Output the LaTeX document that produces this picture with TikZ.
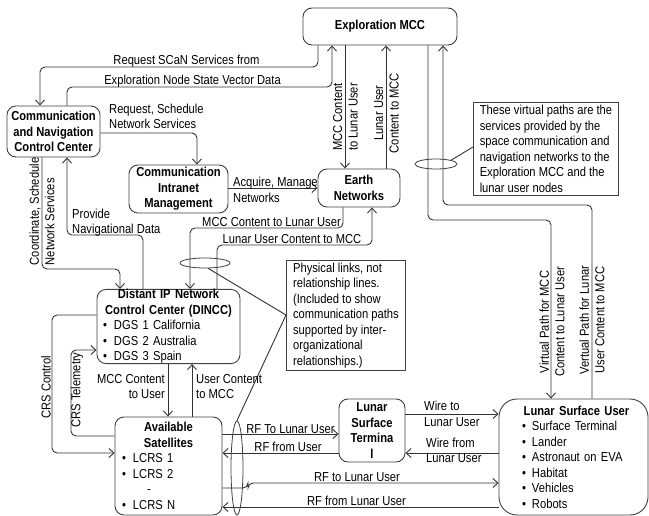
\documentclass[tikz,border=0pt]{standalone}
\usepackage{fontspec}
\setmainfont{Liberation Sans}[FakeStretch=0.86]
\usepackage{tikz}
\usetikzlibrary{arrows.meta,shapes.geometric}

\newcommand{\dfont}{\fontsize{13}{15.5}\selectfont}
% one left-aligned line of a bullet list inside a centred box
\newcommand{\litem}[2][11pt]{\makebox[\linewidth][l]{\mdseries\makebox[#1][l]{\textbullet}#2}}

\tikzset{
  box/.style={draw=black!75, line width=0.9pt, rounded corners=9pt, align=center,
    font=\dfont\bfseries, inner sep=0pt},
  note/.style={draw=black!75, line width=0.9pt, align=left, font=\dfont,
    inner sep=0pt, anchor=north west},
  lbl/.style={inner sep=0pt, align=center, font=\dfont},
  link/.style={draw=black!80, line width=0.9pt, rounded corners=5pt,
    -{Straight Barb[length=5pt,width=9pt]}},
  plain/.style={draw=black!80, line width=0.9pt, rounded corners=5pt},
  ring/.style={draw=black!75, line width=0.8pt, ellipse, inner sep=0pt}
}

\begin{document}
\begin{tikzpicture}[x=1pt,y=-1pt]
\useasboundingbox (0,0) rectangle (649,516);

% organisations
\node[box, minimum width=154, minimum height=37] (mcc) at (380,26.5) {Exploration MCC};
\node[box, minimum width=93, minimum height=51] (cncc) at (53.5,131.5) {Communication\\and Navigation\\Control Center};
\node[box, minimum width=99, minimum height=48] (cim) at (178.5,189) {Communication\\Intranet\\Management};
\node[box, minimum width=82, minimum height=38] (earth) at (359,188) {Earth\\Networks};
\node[box, minimum width=143, minimum height=73, text width=131] (dincc) at (168.5,326.5)
  {Distant IP Network\\Control Center (DINCC)\\
   \litem{DGS 1 California}\\\litem{DGS 2 Australia}\\\litem{DGS 3 Spain}};
\node[box, minimum width=107, minimum height=98, text width=93] (sat) at (168.5,466)
  {Available\\Satellites\\
   \litem{LCRS 1}\\\litem{LCRS 2}\\\makebox[\linewidth][l]{\mdseries\hspace*{25pt}-}\\\litem{LCRS N}};
\node[box, minimum width=66, minimum height=63] (lst) at (372,430.5) {Lunar\\Surface\\Termina\\l};
\node[box, rounded corners=18pt, minimum width=149, minimum height=116, text width=103] (lsu) at (573.5,457)
  {\makebox[\linewidth][c]{\hspace*{6pt}Lunar Surface User}\\
   \litem[10pt]{Surface Terminal}\\\litem[10pt]{Lander}\\\litem[10pt]{Astronaut on EVA}\\
   \litem[10pt]{Habitat}\\\litem[10pt]{Vehicles}\\\litem[10pt]{Robots}};

% notes
\node[note, minimum width=145, minimum height=93] (vnote) at (473,102)
  {These virtual paths are the\\services provided by the\\space communication and\\navigation networks to the\\Exploration MCC and the\\lunar user nodes};
\node[note, minimum width=119, minimum height=110] (pnote) at (286,260)
  {Physical links, not\\relationship lines.\\(Included to show\\communication paths\\supported by inter-\\organizational\\relationships.)};

% relationships
\draw[link] (mcc.south -| 318,0) |- (40,67) -- (cncc.north -| 40,0);
\draw[link] (cncc.north -| 67,0) |- (332,87) -- (mcc.south -| 332,0);
\draw[link] (mcc.south -| 345,0) -- (earth.north -| 345,0);
\draw[link] (earth.north -| 386,0) -- (mcc.south -| 386,0);
\draw[link] (mcc.south -| 428,0) |- (551,220) -- (lsu.north -| 551,0);
\draw[link] (lsu.north -| 592,0) |- (443,205) -- (mcc.south -| 443,0);
\draw[link] (cncc.east |- 0,133) -| (cim.north -| 197,0);
\draw[link] (cim.east |- 0,188) -- (earth.west |- 0,188);
\draw[link] (cncc.south -| 42,0) |- (120,269) -- (dincc.north -| 120,0);
\draw[link] (dincc.north -| 143,0) |- (67,235) -- (cncc.south -| 67,0);
\draw[link] (earth.south -| 343,0) |- (190,228) -- (dincc.north -| 190,0);
\draw[link] (dincc.north -| 217,0) |- (372,245) -- (earth.south -| 372,0);
\draw[link] (dincc.south -| 168,0) -- (sat.north -| 168,0);
\draw[link] (sat.north -| 192,0) -- (dincc.south -| 192,0);
\draw[link] (dincc.west |- 0,315) -| (52,453) -- (sat.west |- 0,453);
\draw[link] (sat.west |- 0,436) -| (71,350) -- (dincc.west |- 0,350);
\draw[link] (sat.east |- 0,434) -- (lst.west |- 0,434);
\draw[link] (lst.west |- 0,453) -- (sat.east |- 0,453);
\draw[link] (sat.east |- 0,488) -| (248,483) -- (lsu.west |- 0,483);
\draw[link] (lsu.west |- 0,507) -- (sat.east |- 0,507);
\draw[link] (lst.east |- 0,414) -- (lsu.west |- 0,414);
\draw[link] (lsu.west |- 0,453) -- (lst.east |- 0,453);

% rings round the paths
\node[ring, minimum width=42, minimum height=10] (vring) at (436,164) {};
\node[ring, minimum width=50, minimum height=10] (pring1) at (205,263) {};
\node[ring, minimum width=12, minimum height=94] (pring2) at (237,468) {};
\draw[plain] (vring.north east) -- (vnote.west |- 0,147);
\draw[plain, rounded corners=0pt] (pring1.-60) -- (pnote.west |- 0,315) -- (pring2.north);

% labels
\node[lbl] (lreq) at (186.5,61) {Request SCaN Services from};
\node[lbl] (lvec) at (192.5,81) {Exploration Node State Vector Data};
\node[lbl, rotate=90] (lmcc1) at (345.5,117) {MCC Content\\to Lunar User};
\node[lbl, rotate=90] (luser1) at (386.5,113) {Lunar User\\Content to MCC};
\node[lbl, anchor=west, align=left] (lsched) at (109,116.5) {Request, Schedule\\Network Services};
\node[lbl, anchor=west, align=left] (lacq) at (233,190) {Acquire, Manage\\Networks};
\node[lbl, rotate=90, align=left] (lcoord) at (42,211.5) {Coordinate, Schedule\\Network Services};
\node[lbl, anchor=west, align=left] (lnav) at (72,222.5) {Provide\\Navigational Data};
\node[lbl] (lmcc2) at (271.5,222) {MCC Content to Lunar User};
\node[lbl] (luser2) at (292,239) {Lunar User Content to MCC};
\node[lbl, anchor=east, align=right] (lmcc3) at (165,386.5) {MCC Content\\to User};
\node[lbl, anchor=west, align=left] (luser3) at (196,386.5) {User Content\\to MCC};
\node[lbl, rotate=90] (lcrsc) at (46,387) {CRS Control};
\node[lbl, rotate=90] (lcrst) at (77,390) {CRS Telemetry};
\node[lbl] (lrf1) at (290.5,429) {RF To Lunar User};
\node[lbl] (lrf2) at (288,447) {RF from User};
\node[lbl] (lrf3) at (357,477) {RF to Lunar User};
\node[lbl] (lrf4) at (356.5,501) {RF from Lunar User};
\node[lbl, anchor=west, align=left] (lwire1) at (424,414) {Wire to\\Lunar User};
\node[lbl, anchor=west, align=left] (lwire2) at (426,450.5) {Wire from\\Lunar User};
\node[lbl, rotate=90] (lvp1) at (552,322) {Virtual Path for MCC\\Content to Lunar User};
\node[lbl, rotate=90] (lvp2) at (592,320) {Vertual Path for Lunar\\User Content to MCC};

\end{tikzpicture}
\end{document}
